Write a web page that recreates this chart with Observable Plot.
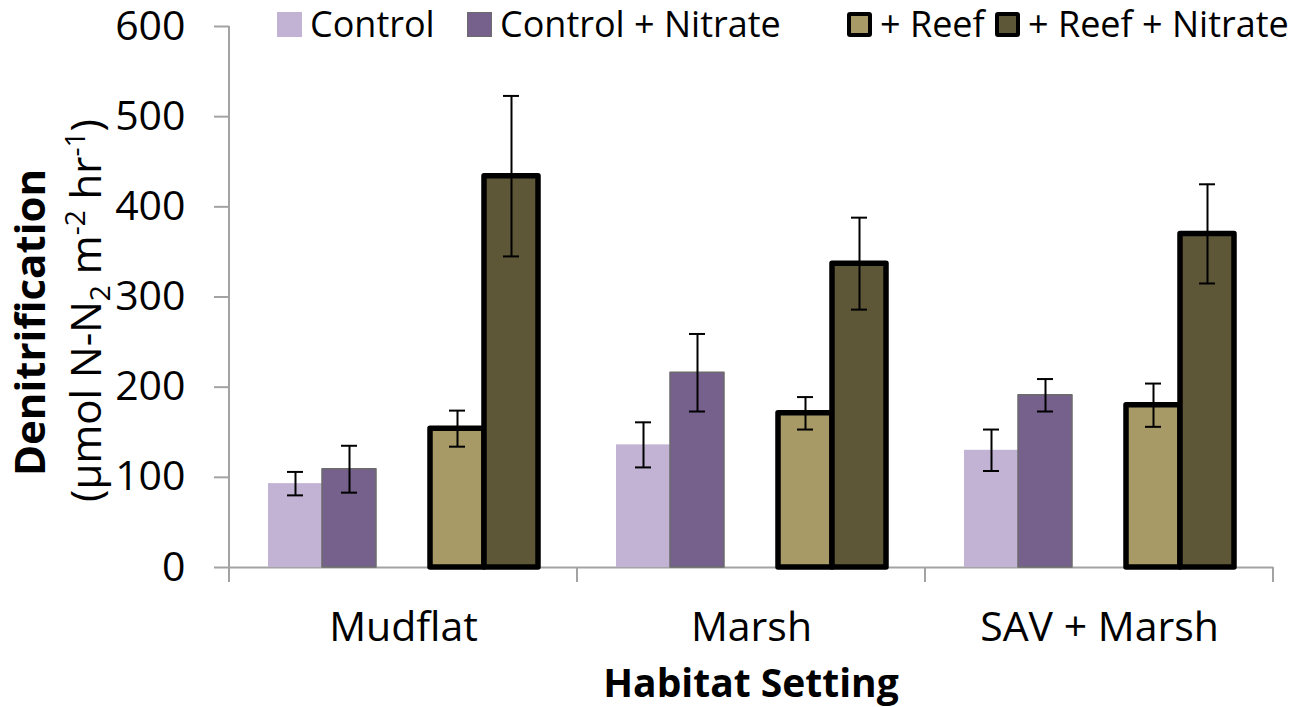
<!DOCTYPE html>
<html>
<head>
<meta charset="utf-8">
<script src="https://cdn.jsdelivr.net/npm/d3@7"></script>
<script src="https://cdn.jsdelivr.net/npm/@observablehq/plot@0.6"></script>
<style>
  html, body { margin: 0; padding: 0; background: #fff; }
  #wrap { position: relative; width: 1301px; height: 707px; overflow: hidden; font-family: "Open Sans", sans-serif; }
  .item { position: absolute; top: 3px; display: flex; align-items: center; font-size: 36px; white-space: nowrap; line-height: 42px; }
  .sw { width: 25px; height: 25px; box-sizing: border-box; margin-right: 8px; }
</style>
</head>
<body>
<div id="wrap"></div>
<script>
// ---- data ----
const groups = ["Mudflat", "Marsh", "SAV + Marsh"];
const treatments = ["Control", "Control + Nitrate", "+ Reef", "+ Reef + Nitrate"];
const control = [93, 136, 130];
const controlErr = [13, 25, 23];
const controlNitrate = [109, 216, 191];
const controlNitrateErr = [26, 43, 18];
const reef = [154, 171, 180];
const reefErr = [20, 18, 24];
const reefNitrate = [434, 337, 370];
const reefNitrateErr = [89, 51, 55];
const yTicks = [0, 100, 200, 300, 400, 500, 600];

// ---- styles ----
const fills = ["#C2B3D4", "#76608C", "#A79A66", "#5D5738"];
const strokes = ["none", "#6b6b6b", "#000", "#000"];
const strokeWidths = [0, 1.5, 5.5, 5.5];
const legendLeft = [277, 467, 847, 995];

const series = [control, controlNitrate, reef, reefNitrate];
const errs = [controlErr, controlNitrateErr, reefErr, reefNitrateErr];
const rows = [];
groups.forEach((g, gi) => treatments.forEach((t, ti) => rows.push({group: g, treatment: t, value: series[ti][gi], err: errs[ti][gi]})));

const xDomain = ["Control", "Control + Nitrate", "gap", "+ Reef", "+ Reef + Nitrate"];

const barMarks = treatments.map((t, i) => Plot.barY(rows, {
  filter: d => d.treatment === t,
  fx: "group", x: "treatment", y: "value",
  fill: fills[i], stroke: strokes[i], strokeWidth: strokeWidths[i], strokeLinejoin: "round"
}));

const chart = Plot.plot({
  width: 1301,
  height: 707,
  marginLeft: 228,
  marginRight: 28,
  marginTop: 26,
  marginBottom: 140,
  style: {fontFamily: "Open Sans", fontSize: "41px", color: "black", background: "white", overflow: "visible"},
  fx: {domain: groups, padding: 0, label: null},
  x: {domain: xDomain, paddingInner: 0, paddingOuter: 0.7, axis: null},
  y: {domain: [0, 600], label: null},
  marks: [
    Plot.ruleY([0], {stroke: "#a3a3a3", strokeWidth: 2}),
    ...barMarks,
    Plot.ruleX(rows, {fx: "group", x: "treatment", y1: d => d.value - d.err, y2: d => d.value + d.err, stroke: "black", strokeWidth: 2}),
    Plot.tickY(rows, {fx: "group", x: "treatment", y: d => d.value - d.err, stroke: "black", strokeWidth: 2, insetLeft: 19, insetRight: 19}),
    Plot.tickY(rows, {fx: "group", x: "treatment", y: d => d.value + d.err, stroke: "black", strokeWidth: 2, insetLeft: 19, insetRight: 19}),
    Plot.axisY({ticks: yTicks, tickSize: 15, tickPadding: 29, stroke: "#a3a3a3", strokeWidth: 2, fill: "black", label: null, tickFormat: d => String(d)}),
    Plot.axisFx({anchor: "bottom", tickSize: 0, tickPadding: 44, fontSize: 41, label: null})
  ]
});

document.getElementById("wrap").appendChild(chart);

// ---- axis lines & group boundary ticks via scales ----
const svg = d3.select(chart);
const ys = chart.scale("y");
const fxs = chart.scale("fx");
const y0 = ys.apply(0), yTop = ys.apply(600);
const left = fxs.apply(groups[0]);
const bw = fxs.bandwidth;
svg.append("line").attr("x1", left).attr("x2", left).attr("y1", yTop).attr("y2", y0)
  .attr("stroke", "#a3a3a3").attr("stroke-width", 2);
const bounds = groups.map(g => fxs.apply(g)).concat([fxs.apply(groups[groups.length - 1]) + bw]);
bounds.forEach(b => svg.append("line").attr("x1", b).attr("x2", b).attr("y1", y0).attr("y2", y0 + 15)
  .attr("stroke", "#a3a3a3").attr("stroke-width", 2));

// ---- axis titles ----
const midX = (bounds[0] + bounds[bounds.length - 1]) / 2;
svg.append("text").attr("x", midX).attr("y", 697).attr("text-anchor", "middle")
  .attr("font-family", "Open Sans").attr("font-weight", "bold").attr("font-size", 39).attr("fill", "black")
  .text("Habitat Setting");

const yt = svg.append("g").attr("transform", `translate(45, ${(y0 + yTop) / 2 + 26}) rotate(-90)`)
  .attr("font-family", "Open Sans").attr("fill", "black");
yt.append("text").attr("x", 0).attr("y", 0).attr("text-anchor", "middle").attr("font-weight", "bold").attr("font-size", 42)
  .text("Denitrification");
const t2 = yt.append("text").attr("x", 12).attr("y", 56).attr("text-anchor", "middle").attr("font-size", 42);
t2.append("tspan").text("(µmol N-N");
t2.append("tspan").attr("font-size", 28).attr("dy", 9).text("2");
t2.append("tspan").attr("dy", -9).text(" m");
t2.append("tspan").attr("font-size", 28).attr("dy", -16).text("-2");
t2.append("tspan").attr("dy", 16).text(" hr");
t2.append("tspan").attr("font-size", 28).attr("dy", -16).text("-1");
t2.append("tspan").attr("dy", 16).text(")");

// ---- legend ----
const wrap = d3.select("#wrap");
treatments.forEach((t, i) => {
  const it = wrap.append("div").attr("class", "item").style("left", legendLeft[i] + "px");
  it.append("div").attr("class", "sw")
    .style("background", fills[i])
    .style("border", i < 2 ? (i === 1 ? "1px solid #6b6b6b" : "none") : "4px solid #000")
    .style("border-radius", i < 2 ? "0" : "3px");
  it.append("span").text(t);
});
</script>
</body>
</html>
